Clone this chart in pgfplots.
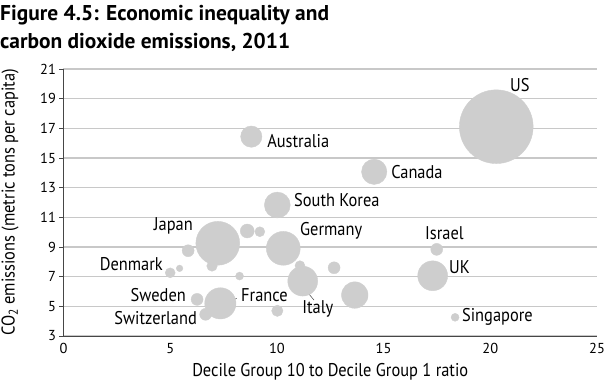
\documentclass[border=0pt]{standalone}
\usepackage{pgfplots}
\pgfplotsset{compat=1.18}
\usepackage{pgfplotstable}
\usepackage{fontspec}
\setmainfont{PT Sans}
\newfontfamily\labfont[FakeStretch=0.89]{PT Sans}
\definecolor{bub}{RGB}{206,206,206}
\definecolor{gridc}{RGB}{200,200,200}
\definecolor{axl}{RGB}{70,70,70}
\newcommand{\lf}{\labfont\fontsize{18.5}{21}\selectfont}
\newcommand{\tf}{\fontsize{14.5}{17}\selectfont}
\pgfplotstableread{
x y r
20.28 17.11 37
7.23 9.25 22
10.30 8.91 17
7.35 5.20 15.7
11.21 6.70 15
17.30 7.06 15
13.65 5.76 13.3
10.02 11.83 13
14.56 14.07 12.7
8.80 16.44 10.7
8.61 10.08 7
5.84 8.75 6
6.26 5.47 6
6.66 4.46 6
12.68 7.60 6
17.49 8.84 6
10.02 4.70 5.7
6.96 7.72 5.3
9.20 10.03 5
5.00 7.26 5
11.08 7.74 5
8.25 7.04 4
18.35 4.26 4
5.44 7.56 3.3
}\bubbles
\begin{document}
\begin{tikzpicture}[lab/.style={inner sep=0, font=\lf}]
\useasboundingbox (-63.5bp,-50bp) rectangle (540.5bp,336bp);
\begin{axis}[
  scale only axis, width=533.5bp, height=267bp,
  xmin=0,xmax=25,ymin=3,ymax=21,
  xtick={0,5,...,25}, ytick={3,5,...,21},
  axis x line=bottom, axis y line=left,
  axis line style={draw=axl, line width=0.8pt, -},
  ymajorgrids, grid style={draw=gridc, line width=1.2pt},
  x tick style={draw=none}, y tick style={draw=axl, line width=0.8pt},
  tick align=outside, major tick length=4bp,
  xticklabel style={font=\tf},
  yticklabel style={font=\tf},
  /pgf/number format/assume math mode=true,
  xlabel={Decile Group 10 to Decile Group 1 ratio},
  ylabel={CO\textsubscript{2} emissions (metric tons per capita)},
  xlabel style={at={([yshift=-36bp]axis description cs:0.5,0)}, anchor=center, font=\lf},
  ylabel style={at={([xshift=-53.5bp]axis description cs:0,0.5)}, anchor=center, font=\lf},
  clip=false,
]
\addplot[scatter, only marks, mark=*,
  scatter/use mapped color={draw=bub, fill=bub},
  visualization depends on={\thisrow{r} \as \perpointmarksize},
  scatter/@pre marker code/.append style={/tikz/mark size=\perpointmarksize},
] table[x=x,y=y,meta=r]{\bubbles};
\draw[axl, line width=0.5pt] (axis cs:7.38,5.24) -- (axis cs:8.12,5.53);
\draw[axl, line width=0.5pt] (axis cs:11.28,6.21) -- (axis cs:11.74,5.42);
\node[lab, anchor=west] at (axis cs:20.92,19.92) {US};
\node[lab, anchor=west] at (axis cs:9.54,16.14) {Australia};
\node[lab, anchor=west] at (axis cs:15.35,14.05) {Canada};
\node[lab, anchor=west] at (axis cs:10.80,12.17) {South Korea};
\node[lab, anchor=east] at (axis cs:6.07,10.41) {Japan};
\node[lab, anchor=west] at (axis cs:11.08,10.08) {Germany};
\node[lab, anchor=west] at (axis cs:16.94,9.94) {Israel};
\node[lab, anchor=east] at (axis cs:4.66,7.85) {Denmark};
\node[lab, anchor=west] at (axis cs:18.06,7.65) {UK};
\node[lab, anchor=east] at (axis cs:5.74,5.76) {Sweden};
\node[lab, anchor=west] at (axis cs:8.32,5.76) {France};
\node[lab, anchor=east] at (axis cs:6.26,4.21) {Switzerland};
\node[lab, anchor=west] at (axis cs:11.18,4.82) {Italy};
\node[lab, anchor=west] at (axis cs:18.67,4.28) {Singapore};
\end{axis}
\node[anchor=north west, align=left, font=\bfseries\fontsize{21.5}{28}\selectfont, inner sep=0] at (-63.5bp,331bp) {Figure 4.5: Economic inequality and\\carbon dioxide emissions, 2011};
\end{tikzpicture}
\end{document}
